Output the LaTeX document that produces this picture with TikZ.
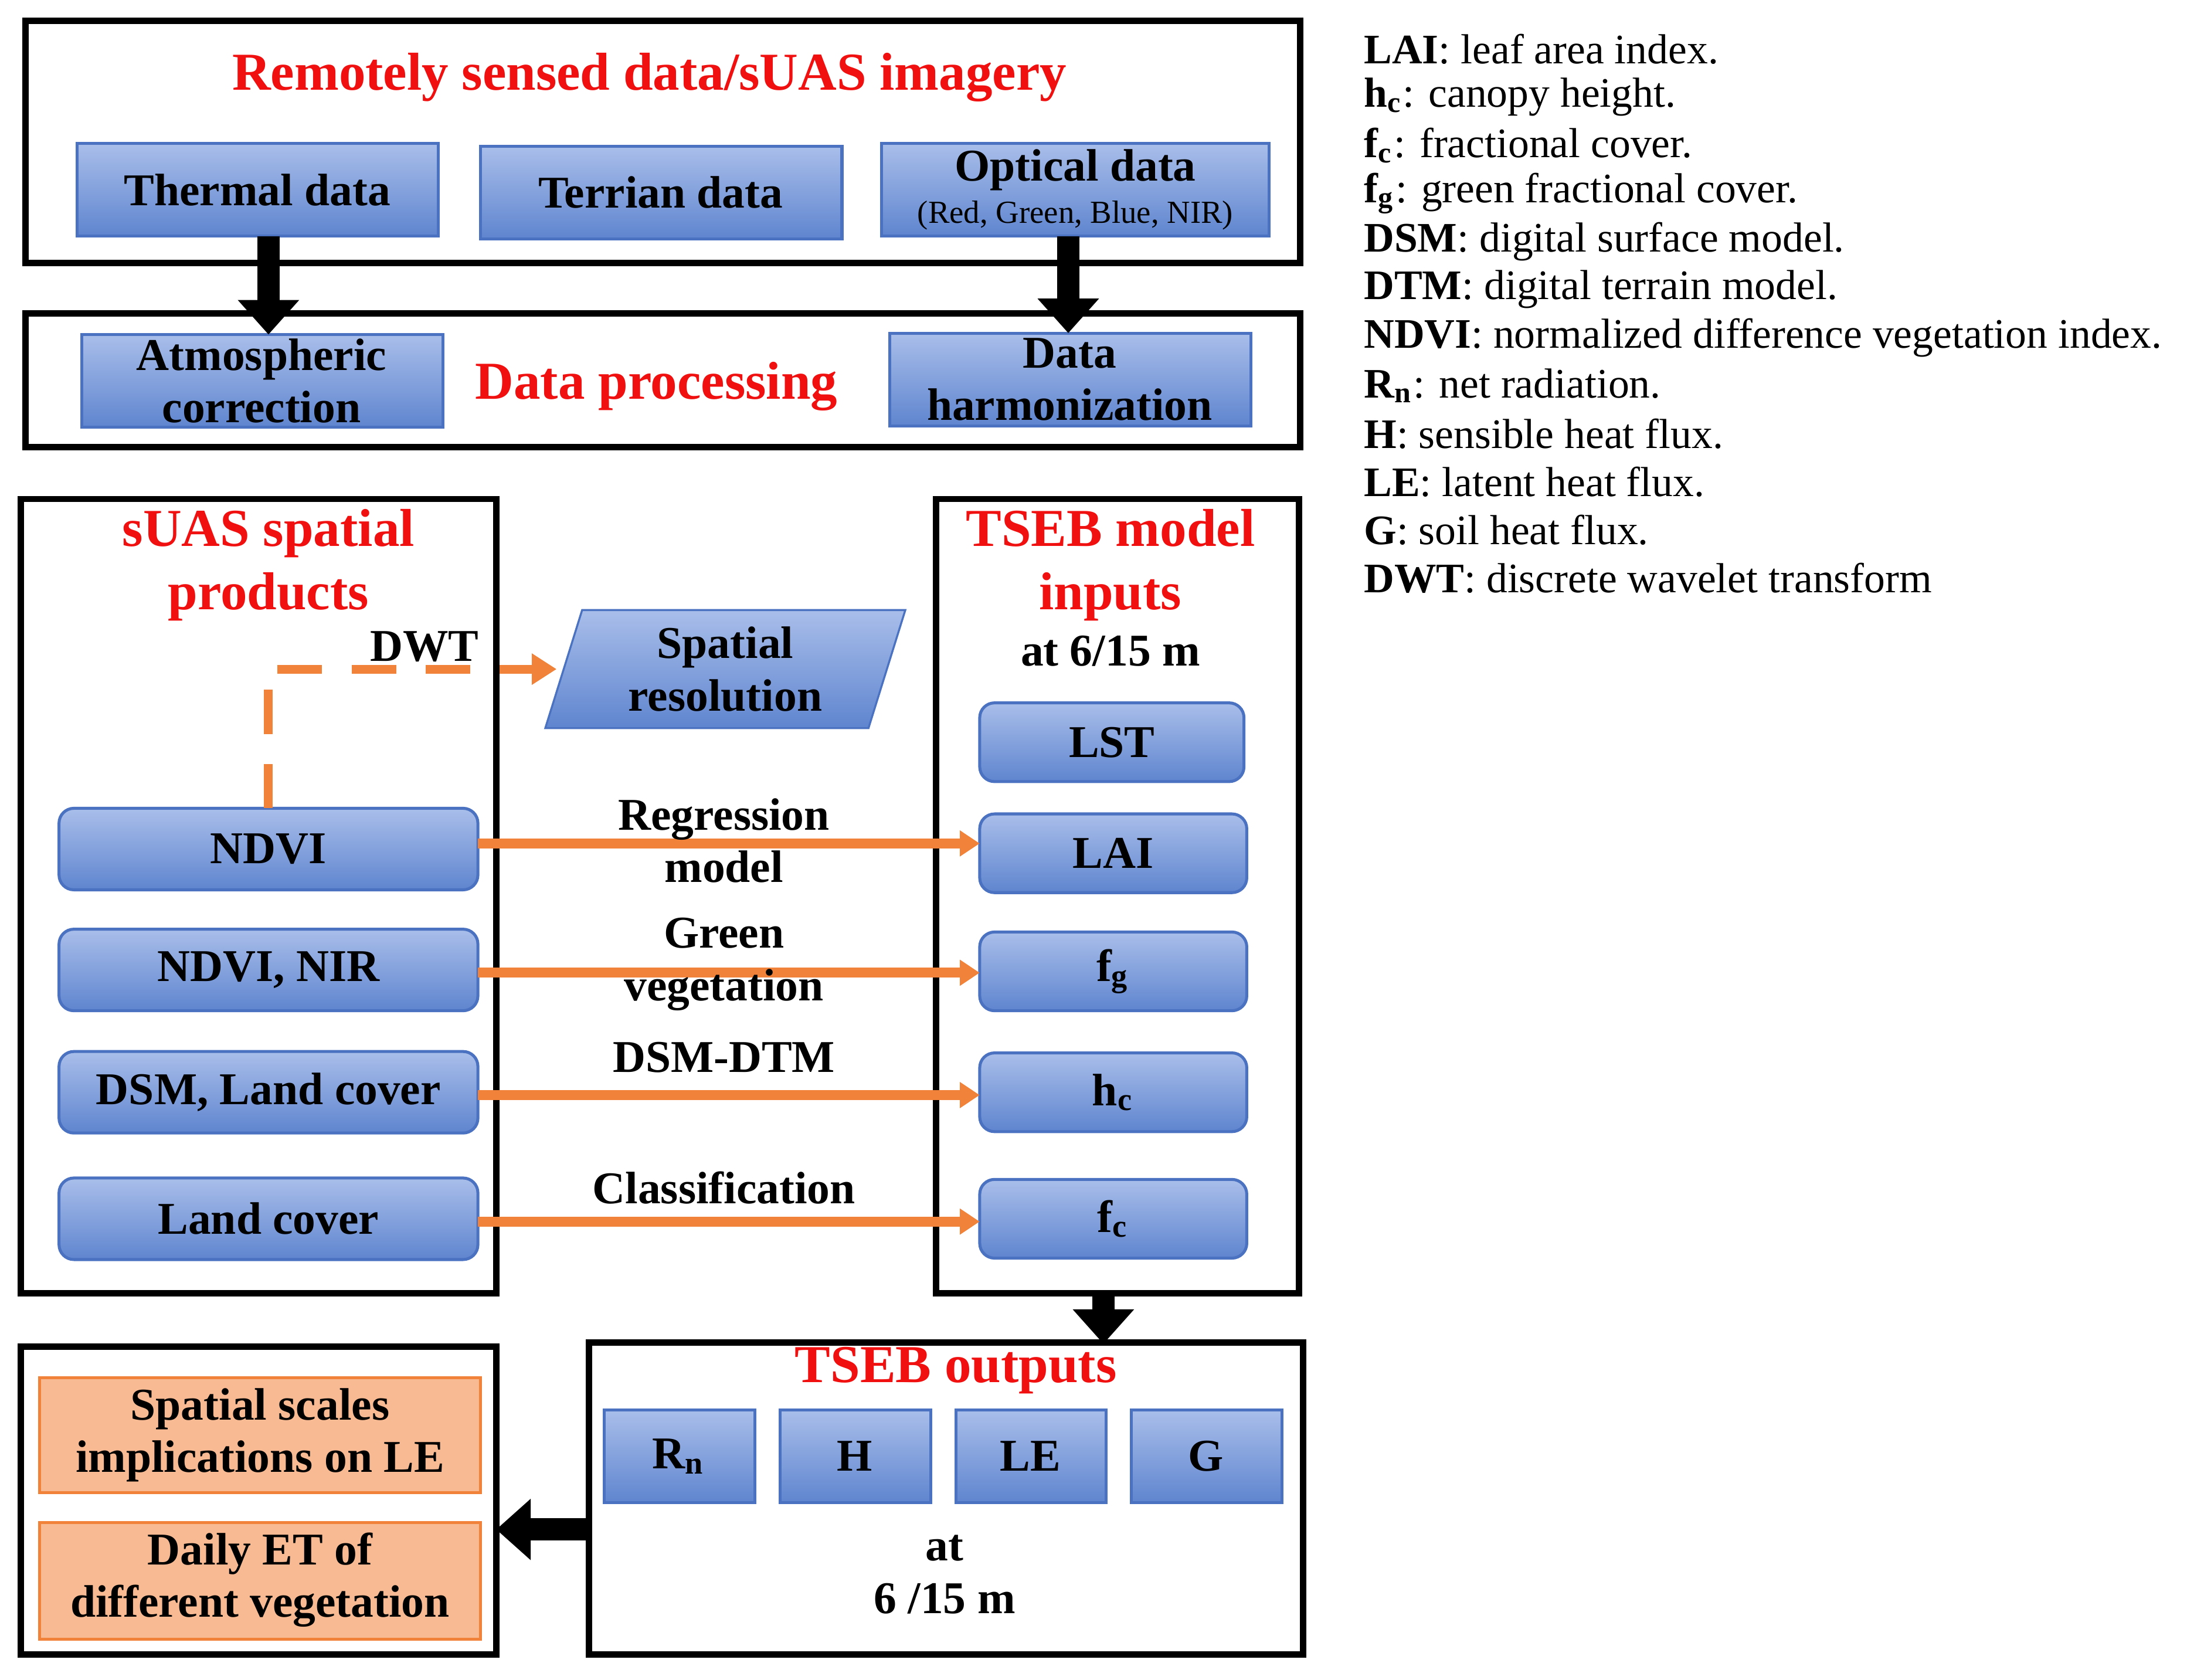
\documentclass[tikz,border=0pt]{standalone}
\usepackage{fontspec}
\setmainfont{Liberation Serif}
\usetikzlibrary{arrows.meta,shapes.geometric}
\definecolor{bbord}{HTML}{4A72C0}
\definecolor{btop}{HTML}{A9BEEA}
\definecolor{bbot}{HTML}{5F85CF}
\definecolor{ored}{HTML}{F0823A}
\definecolor{tred}{HTML}{F01010}
\begin{document}
\begin{tikzpicture}[x=0.1mm,y=-0.1mm,
  frame/.style={draw=black,line width=1.3pt},
  blue/.style={draw=bbord,line width=0.6pt,top color=btop,bottom color=bbot},
  obox/.style={draw=ored,line width=0.6pt,fill=ored!55},
  ttl/.style={text=tred,font=\bfseries\fontsize{10.8}{12.8}\selectfont,align=center},
  lab/.style={font=\bfseries\fontsize{9.2}{10.6}\selectfont,align=center},
  barr/.style={line width=4.5pt,-{Triangle[length=7pt,width=12pt]}},
  oarr/.style={ored,line width=2pt,-{Triangle[length=4pt,width=5pt]}},
  leg/.style={anchor=west,font=\fontsize{8.5}{9.5}\selectfont}]
\useasboundingbox (0,0) rectangle (1568,1195);
% top
\draw[frame] (18,15) rectangle (925,187);
\node[ttl] (t1) at (462,55) {Remotely sensed data/sUAS imagery};
\path[blue] (55,102) rectangle (312,168); \node[lab] (th) at (183,135) {Thermal data};
\path[blue] (342,104) rectangle (599,170); \node[lab] (te) at (470,137) {Terrian data};
\path[blue] (627,102) rectangle (903,168); \node[lab,align=center] (op) at (765,135) {Optical data\\[-2pt]{\mdseries\fontsize{6.5}{7}\selectfont (Red, Green, Blue, NIR)}};
% processing
\draw[frame] (18,223) rectangle (925,318);
\path[blue] (58,238) rectangle (315,304); \node[lab] (at) at (186,271) {Atmospheric\\correction};
\node[ttl] (dp) at (467,275) {Data processing};
\path[blue] (633,237) rectangle (890,303); \node[lab] (dh) at (761,270) {Data\\harmonization};
\coordinate (a1) at (191,168); \coordinate (a2) at (191,238);
\coordinate (b1) at (760,168); \coordinate (b2) at (760,237);
\draw[barr] (a1) -- (a2); \draw[barr] (b1) -- (b2);
% left products
\draw[frame] (15,355) rectangle (353,920);
\node[ttl] (sp) at (191,402) {sUAS spatial\\products};
\draw[frame] (666,355) rectangle (924,920);
\node[ttl] (ti) at (790,402) {TSEB model\\inputs};
\node[lab] (at6) at (790,463) {at 6/15 m};
\node[trapezium,trapezium left angle=70,trapezium right angle=110,draw=bbord,top color=btop,bottom color=bbot,inner sep=0pt,
  minimum height=8.4mm,text width=17mm,align=center,font=\bfseries\fontsize{9.2}{10.6}\selectfont,trapezium stretches=true,minimum width=25.7mm] (sr) at (516,476) {Spatial\\resolution};
\path[blue,rounded corners=3pt] (42,575) rectangle (340,633); \node[lab] (n1) at (191,604) {NDVI};
\path[blue,rounded corners=3pt] (42,661) rectangle (340,719); \node[lab] (n2) at (191,690) {NDVI, NIR};
\path[blue,rounded corners=3pt] (42,748) rectangle (340,806); \node[lab] (n3) at (191,777) {DSM, Land cover};
\path[blue,rounded corners=3pt] (42,838) rectangle (340,896); \node[lab] (n4) at (191,867) {Land cover};
\path[blue,rounded corners=3pt] (697,500) rectangle (885,556); \node[lab] (r0) at (791,528) {LST};
\path[blue,rounded corners=3pt] (697,579) rectangle (887,635); \node[lab] (r1) at (792,607) {LAI};
\path[blue,rounded corners=3pt] (697,663) rectangle (887,719); \node[lab] (r2) at (792,691) {f$_\mathbf{g}$};
\path[blue,rounded corners=3pt] (697,749) rectangle (887,805); \node[lab] (r3) at (792,777) {h$_\mathbf{c}$};
\path[blue,rounded corners=3pt] (697,839) rectangle (887,895); \node[lab] (r4) at (792,867) {f$_\mathbf{c}$};
\coordinate (c1) at (191,575); \coordinate (c2) at (191,476); \coordinate (c3) at (396,476);
\draw[ored,line width=1.8pt,dash pattern=on 9pt off 6pt,-{Triangle[length=5pt,width=6pt]}] (c1) -- (c2) -- (c3);
\node[lab] (dwt) at (302,460) {DWT};
\coordinate (l1) at (340,600); \coordinate (e1) at (697,600);
\coordinate (l2) at (340,692); \coordinate (e2) at (697,692);
\coordinate (l3) at (340,779); \coordinate (e3) at (697,779);
\coordinate (l4) at (340,869); \coordinate (e4) at (697,869);
\draw[oarr] (l1) -- (e1); \draw[oarr] (l2) -- (e2); \draw[oarr] (l3) -- (e3); \draw[oarr] (l4) -- (e4);
\node[lab] (m1) at (515,598) {Regression\\model};
\node[lab] (m2) at (515,686) {Green\\vegetation};
\node[lab] (m3) at (515,752) {DSM-DTM};
\node[lab] (m4) at (515,845) {Classification};
% outputs
\coordinate (d1) at (785,920); \coordinate (d2) at (785,956);
\draw[barr] (d1) -- (d2);
\draw[frame] (419,955) rectangle (927,1177);
\node[ttl] (to) at (680,975) {TSEB outputs};
\path[blue] (430,1003) rectangle (537,1069); \node[lab] (o1) at (483,1036) {R$_\mathbf{n}$};
\path[blue] (555,1003) rectangle (662,1069); \node[lab] (o2) at (608,1036) {H};
\path[blue] (680,1003) rectangle (787,1069); \node[lab] (o3) at (733,1036) {LE};
\path[blue] (805,1003) rectangle (912,1069); \node[lab] (o4) at (858,1036) {G};
\node[lab] (at2) at (672,1120) {at\\6 /15 m};
\draw[frame] (15,958) rectangle (353,1177);
\path[obox] (28,980) rectangle (342,1062); \node[lab] (s1) at (185,1021) {Spatial scales\\implications on LE};
\path[obox] (28,1083) rectangle (342,1166); \node[lab] (s2) at (185,1124) {Daily ET of\\different vegetation};
\coordinate (f1) at (419,1088); \coordinate (f2) at (353,1088);
\draw[barr] (f1) -- (f2);
% legend
\foreach \i/\t in {0/{\textbf{LAI}: leaf area index.},1/{\textbf{h}$_\mathbf{c}$: canopy height.},2/{\textbf{f}$_\mathbf{c}$: fractional cover.},3/{\textbf{f}$_\mathbf{g}$: green fractional cover.},4/{\textbf{DSM}: digital surface model.},5/{\textbf{DTM}: digital terrain model.},6/{\textbf{NDVI}: normalized difference vegetation index.},7/{\textbf{R}$_\mathbf{n}$: net radiation.},8/{\textbf{H}: sensible heat flux.},9/{\textbf{LE}: latent heat flux.},10/{\textbf{G}: soil heat flux.},11/{\textbf{DWT}: discrete wavelet transform}}
  \node[leg] (lg\i) at (958,{35+34.2*\i}) {\t};
\end{tikzpicture}
\end{document}
